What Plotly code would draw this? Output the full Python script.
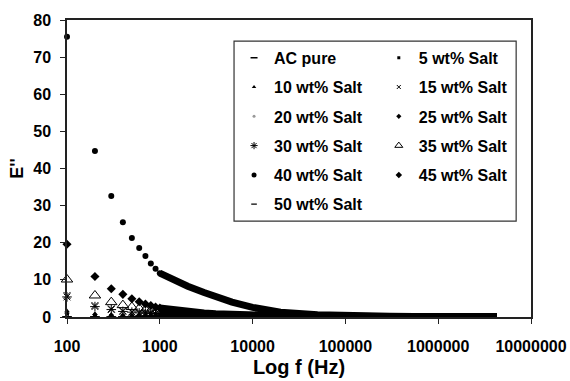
import plotly.graph_objects as go

# ---- data ----
freq_sparse = [100, 200, 300, 400, 500, 600, 700, 800, 900, 1000]
freq_dense = [1000, 1500, 2000, 3000, 4000, 6000, 10000, 20000, 50000,
              100000, 300000, 1000000, 4300000]

names = ["AC pure", "5 wt% Salt", "10 wt% Salt", "15 wt% Salt", "20 wt% Salt",
         "25 wt% Salt", "30 wt% Salt", "35 wt% Salt", "40 wt% Salt",
         "45 wt% Salt", "50 wt% Salt"]

ac_pure_sparse = [0.05, 0.05, 0.04, 0.04, 0.04, 0.03, 0.03, 0.03, 0.03, 0.03]
ac_pure_dense = [0.03, 0.03, 0.02, 0.02, 0.02, 0.02, 0.01, 0.01, 0.01, 0.01, 0.01, 0.01, 0.01]
s5_sparse = [0.4, 0.3, 0.25, 0.2, 0.18, 0.16, 0.15, 0.14, 0.13, 0.12]
s5_dense = [0.12, 0.1, 0.09, 0.08, 0.07, 0.06, 0.05, 0.04, 0.03, 0.02, 0.02, 0.01, 0.01]
s10_sparse = [1.6, 0.9, 0.65, 0.5, 0.45, 0.4, 0.35, 0.32, 0.3, 0.28]
s10_dense = [0.28, 0.22, 0.18, 0.14, 0.12, 0.1, 0.08, 0.05, 0.03, 0.02, 0.02, 0.01, 0.01]
s15_sparse = [5.8, 3.1, 2.2, 1.7, 1.4, 1.2, 1.1, 1.0, 0.9, 0.8]
s15_dense = [0.8, 0.6, 0.5, 0.4, 0.3, 0.25, 0.18, 0.1, 0.06, 0.04, 0.03, 0.02, 0.01]
s20_sparse = [0.2, 0.15, 0.12, 0.1, 0.09, 0.08, 0.08, 0.07, 0.07, 0.06]
s20_dense = [0.06, 0.05, 0.05, 0.04, 0.04, 0.03, 0.03, 0.02, 0.02, 0.01, 0.01, 0.01, 0.01]
s25_sparse = [1.0, 0.6, 0.45, 0.38, 0.32, 0.28, 0.25, 0.22, 0.2, 0.18]
s25_dense = [0.18, 0.14, 0.12, 0.1, 0.08, 0.07, 0.05, 0.04, 0.03, 0.02, 0.02, 0.01, 0.01]
s30_sparse = [5.4, 2.8, 2.0, 1.5, 1.3, 1.1, 1.0, 0.9, 0.8, 0.75]
s30_dense = [0.75, 0.55, 0.45, 0.35, 0.28, 0.22, 0.16, 0.1, 0.06, 0.04, 0.03, 0.02, 0.01]
s35_sparse = [10.1, 5.8, 4.0, 3.2, 2.7, 2.3, 2.0, 1.8, 1.6, 1.5]
s35_dense = [1.5, 1.1, 0.9, 0.7, 0.55, 0.45, 0.3, 0.2, 0.12, 0.08, 0.05, 0.03, 0.02]
s40_sparse = [75.5, 44.7, 32.6, 25.5, 21.3, 18.6, 16.4, 14.4, 13.0, 11.8]
s40_dense = [11.8, 9.6, 8.3, 6.6, 5.4, 4.0, 2.6, 1.3, 0.6, 0.35, 0.2, 0.1, 0.05]
s45_sparse = [19.6, 10.9, 7.6, 6.1, 4.9, 4.1, 3.5, 3.1, 2.7, 2.4]
s45_dense = [2.4, 1.8, 1.5, 1.1, 0.9, 0.7, 0.5, 0.35, 0.2, 0.15, 0.1, 0.05, 0.03]
s50_sparse = [0.1, 0.08, 0.07, 0.06, 0.05, 0.05, 0.05, 0.04, 0.04, 0.04]
s50_dense = [0.04, 0.03, 0.03, 0.03, 0.02, 0.02, 0.02, 0.01, 0.01, 0.01, 0.01, 0.01, 0.01]

x_tickvals = [100, 1000, 10000, 100000, 1000000, 10000000]
x_ticktext = ["100", "1000", "10000", "100000", "1000000", "10000000"]
y_tickvals = [0, 10, 20, 30, 40, 50, 60, 70, 80]

sparse_all = [ac_pure_sparse, s5_sparse, s10_sparse, s15_sparse, s20_sparse, s25_sparse,
              s30_sparse, s35_sparse, s40_sparse, s45_sparse, s50_sparse]
dense_all = [ac_pure_dense, s5_dense, s10_dense, s15_dense, s20_dense, s25_dense,
             s30_dense, s35_dense, s40_dense, s45_dense, s50_dense]

# ---- styles ----
# (symbol, plot size, legend size, colour, outline width)
styles = [
    ("line-ew-open", 7, 5, "black", 1.5),
    ("square", 4, 3, "black", 0),
    ("triangle-up", 5, 4, "black", 0),
    ("x-thin-open", 7, 4, "black", 1),
    ("circle", 3, 3, "#999999", 0),
    ("diamond", 4, 4, "black", 0),
    ("asterisk-open", 8, 6, "black", 1),
    ("triangle-up-open", 10, 7, "black", 1),
    ("circle", 6, 5, "black", 0),
    ("diamond", 7, 5, "black", 0),
    ("line-ew-open", 5, 4, "black", 1.2),
]
legend_of = ["legend", "legend2"] * 6

fig = go.Figure()
for i, name in enumerate(names):
    # dense band (drawn as a thick line)
    fig.add_trace(go.Scatter(
        x=freq_dense, y=dense_all[i], mode="lines",
        line=dict(color="black", width=7),
        showlegend=False, legendgroup=name, hoverinfo="skip", cliponaxis=False,
    ))
for i, name in enumerate(names):
    sym, size, lsize, col, lw = styles[i]
    fig.add_trace(go.Scatter(
        x=freq_sparse, y=sparse_all[i], mode="markers", name=name,
        showlegend=False, legendgroup=name, cliponaxis=False,
        marker=dict(symbol=sym, size=size, color=col,
                    line=dict(color=col, width=lw)),
    ))
for i, name in enumerate(names):
    sym, size, lsize, col, lw = styles[i]
    # legend entry (small symbols as in the original legend)
    fig.add_trace(go.Scatter(
        x=[None], y=[None], mode="markers", name=name,
        legend=legend_of[i], legendgroup=name,
        marker=dict(symbol=sym, size=lsize, color=col,
                    line=dict(color=col, width=lw)),
    ))

font_family = "Liberation Sans, Arial, sans-serif"
leg_common = dict(
    font=dict(family=font_family, size=16, color="black", weight="bold"),
    bgcolor="rgba(0,0,0,0)", borderwidth=0, tracegroupgap=5.5,
    orientation="v", yanchor="top", xanchor="left", y=0.93,
)

fig.update_layout(
    width=570, height=381,
    margin=dict(l=67, r=39, t=20, b=64),
    paper_bgcolor="white", plot_bgcolor="white",
    font=dict(family=font_family, color="black"),
    legend=dict(x=0.36, **leg_common),
    legend2=dict(x=0.672, **leg_common),
    shapes=[dict(type="rect", xref="paper", yref="paper",
                 x0=0.360, x1=0.968, y0=0.323, y1=0.929,
                 line=dict(color="#333333", width=1.2), layer="below")],
    xaxis=dict(
        type="log", range=[2, 7], tickvals=x_tickvals, ticktext=x_ticktext,
        automargin=False,
        showgrid=False, zeroline=False, showline=True, mirror=True,
        linecolor="#222222", linewidth=1.5, ticks="outside", ticklen=5,
        tickcolor="#222222", ticklabelstandoff=9,
        tickfont=dict(family=font_family, size=16, weight="bold"),
        title=dict(text="Log f (Hz)", standoff=6,
                   font=dict(family=font_family, size=20, weight="bold")),
    ),
    yaxis=dict(
        range=[0, 80], tickvals=y_tickvals, automargin=False,
        showgrid=False, zeroline=False, showline=True, mirror=True,
        linecolor="#222222", linewidth=1.5, ticks="outside", ticklen=5,
        tickcolor="#222222", ticklabelstandoff=6,
        tickfont=dict(family=font_family, size=16, weight="bold"),
        title=dict(text="E''", standoff=5,
                   font=dict(family=font_family, size=18, weight="bold")),
    ),
)

fig.write_html("out.html")
